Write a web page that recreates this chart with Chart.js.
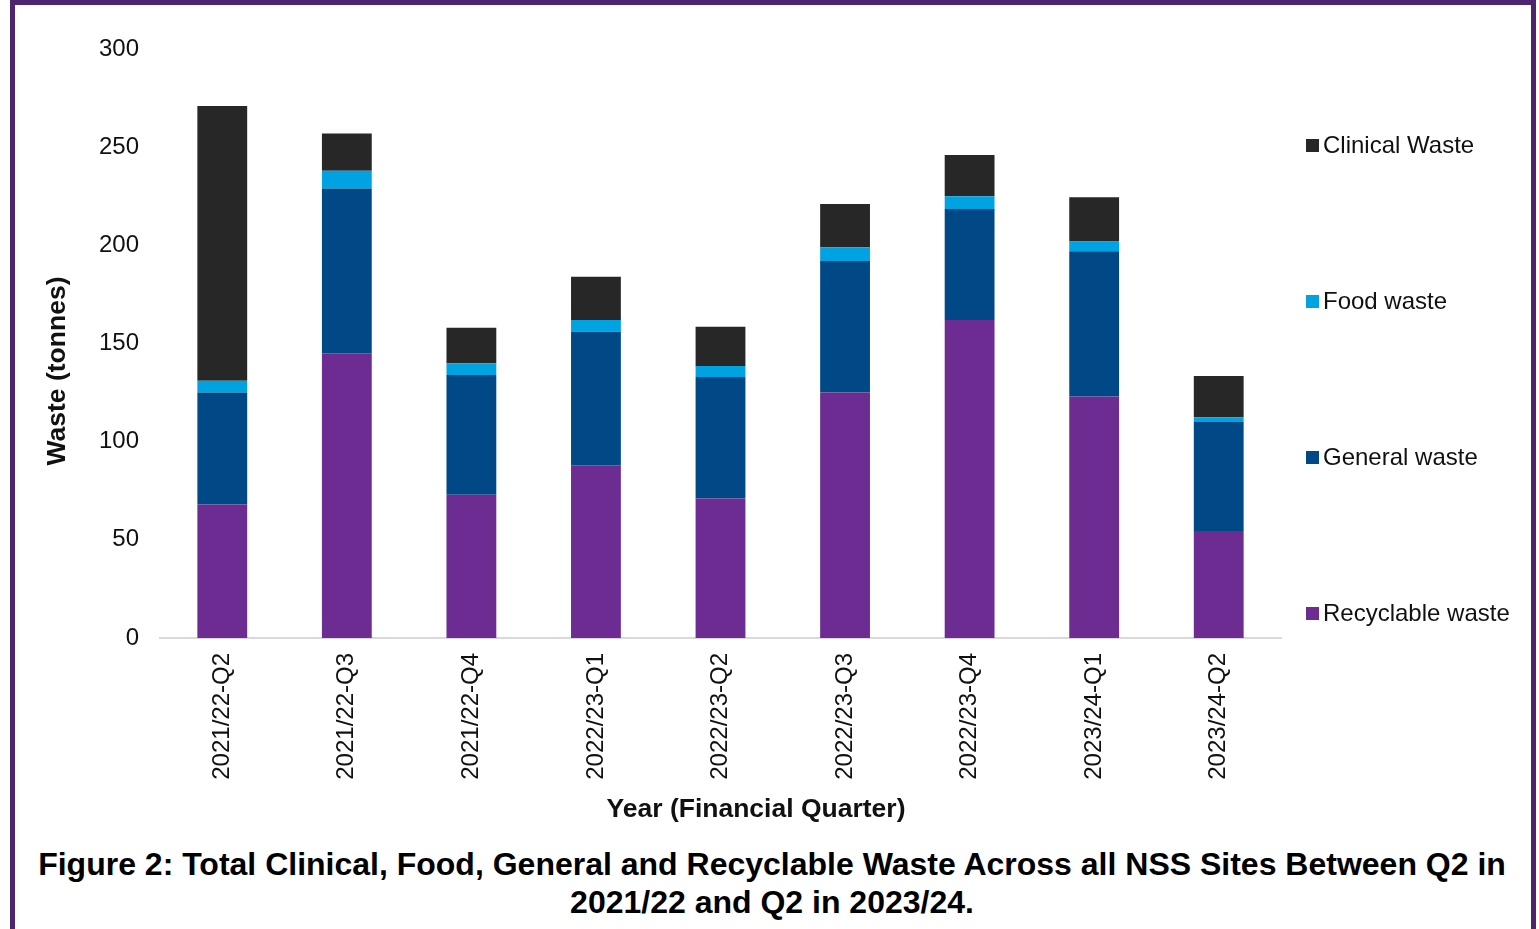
<!DOCTYPE html>
<html>
<head>
<meta charset="utf-8">
<script src="https://cdn.jsdelivr.net/npm/chart.js@4"></script>
<style>
  body { margin: 0; background: #fff; font-family: "Liberation Sans", Arial, sans-serif; overflow: hidden; }
  #frame {
    position: absolute; left: 10px; top: 0; width: 1516px; height: 1000px;
    border: 5px solid #4e2470;
  }
  #chart { position: absolute; left: 0; top: 0; }
  #legend { position: absolute; left: 1306px; top: 0; }
  .item { position: absolute; white-space: nowrap; font-size: 24px; line-height: 28px; color: #111; }
  .item span.box { display: inline-block; width: 13px; height: 13px; margin-right: 4px; vertical-align: 1px; }
  #caption {
    position: absolute; left: 0; top: 845px; width: 1544px; text-align: center;
    font-weight: bold; font-size: 32px; line-height: 38px; color: #000;
  }
</style>
</head>
<body>
<div id="frame"></div>
<canvas id="chart" width="1539" height="830"></canvas>
<div id="legend"></div>
<div id="caption">Figure 2: Total Clinical, Food, General and Recyclable Waste Across all NSS Sites Between Q2 in<br>2021/22 and Q2 in 2023/24.</div>
<script>
// Quarterly waste totals (tonnes)
const quarters = ['2021/22-Q2', '2021/22-Q3', '2021/22-Q4', '2022/23-Q1', '2022/23-Q2',
                  '2022/23-Q3', '2022/23-Q4', '2023/24-Q1', '2023/24-Q2'];
const recyclableWaste = [68, 145, 73, 88, 71, 125, 162, 123, 54.5];
const generalWaste = [57, 84, 61, 68, 62, 67, 56.5, 74, 55.5];
const foodWaste = [6, 9, 6, 6, 5.5, 7, 6.5, 5, 2.5];
const clinicalWaste = [140, 19, 18, 22, 20, 22, 21, 22.5, 21];

const FONT = '"Liberation Sans", Arial, sans-serif';

const datasets = [
  { label: 'Recyclable waste', data: recyclableWaste, backgroundColor: '#6c2c91' },
  { label: 'General waste', data: generalWaste, backgroundColor: '#004987' },
  { label: 'Food waste', data: foodWaste, backgroundColor: '#00a3e2' },
  { label: 'Clinical Waste', data: clinicalWaste, backgroundColor: '#272727' }
];
datasets.forEach(function (d) {
  d.borderWidth = 0;
  d.barPercentage = 0.4;
  d.categoryPercentage = 1;
});

// Axis titles, placed by hand rather than centred on the chart area
const axisTitles = {
  id: 'axisTitles',
  afterDraw: function (chart) {
    const c = chart.ctx;
    c.save();
    c.font = 'bold 26.5px ' + FONT;
    c.fillStyle = '#111';
    c.textAlign = 'center';
    c.textBaseline = 'middle';
    c.fillText('Year (Financial Quarter)', 756, 810);
    c.translate(58, 371);
    c.rotate(-Math.PI / 2);
    c.fillText('Waste (tonnes)', 0, 0);
    c.restore();
  }
};

const ctx = document.getElementById('chart').getContext('2d');
const myChart = new Chart(ctx, {
  type: 'bar',
  data: { labels: quarters, datasets: datasets },
  plugins: [axisTitles],
  options: {
    responsive: false,
    animation: false,
    layout: { padding: { left: 40, right: 258, top: 49, bottom: 0 } },
    plugins: { legend: { display: false }, tooltip: { enabled: false } },
    scales: {
      x: {
        stacked: true,
        grid: { display: false, drawTicks: false },
        border: { display: true, color: '#d9d9d9', width: 2 },
        ticks: {
          color: '#111', font: { family: FONT, size: 24 },
          maxRotation: 90, minRotation: 90, padding: 15, autoSkip: false
        },
        afterFit: function (scale) { scale.height = 192; }
      },
      y: {
        stacked: true,
        min: 0, max: 300,
        grid: { display: false, drawTicks: false },
        border: { display: false },
        ticks: { stepSize: 50, color: '#111', font: { family: FONT, size: 24 }, padding: 21 },
        afterFit: function (scale) { scale.width = 120; }
      }
    }
  }
});

// Legend on the right, top entry is the top of the stack
const legend = document.getElementById('legend');
const legendY = [145, 301, 457, 613];
datasets.slice().reverse().forEach(function (d, i) {
  const item = document.createElement('div');
  item.className = 'item';
  item.style.top = (legendY[i] - 14) + 'px';
  item.innerHTML = '<span class="box" style="background:' + d.backgroundColor + '"></span>' + d.label;
  legend.appendChild(item);
});
</script>
</body>
</html>
